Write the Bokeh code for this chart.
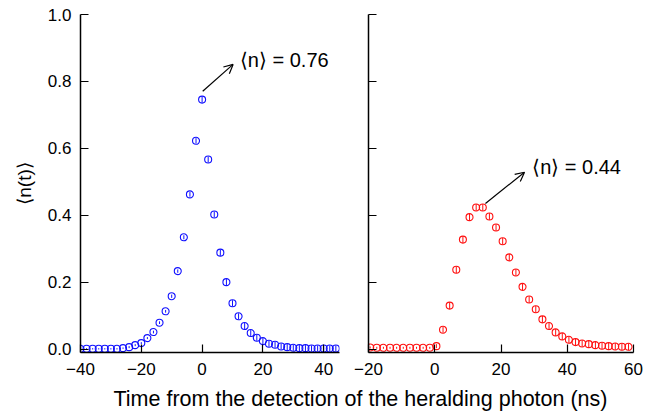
from bokeh.plotting import figure
from bokeh.layouts import column, row
from bokeh.models import FixedTicker, PrintfTickFormatter, CustomJSTickFormatter, Arrow, OpenHead
from bokeh.core.properties import value
from bokeh.embed import file_html
from bokeh.resources import INLINE

# ---------------- data ----------------
blue_x = [-40, -38, -36, -34, -32, -30, -28, -26, -24, -22, -20, -18, -16, -14, -12, -10, -8, -6, -4, -2,
          0, 2, 4, 6, 8, 10, 12, 14, 16, 18, 20, 22, 24, 26, 28, 30, 32, 34, 36, 38, 40, 42, 44]
blue_y = [0.002, 0.002, 0.002, 0.002, 0.002, 0.002, 0.002, 0.004, 0.007, 0.013, 0.019, 0.034, 0.052, 0.080,
          0.114, 0.159, 0.234, 0.335, 0.463, 0.623, 0.746, 0.567, 0.403, 0.289, 0.201, 0.138, 0.099, 0.070,
          0.049, 0.035, 0.025, 0.017, 0.014, 0.009, 0.007, 0.005, 0.004, 0.004, 0.003, 0.003, 0.003, 0.003, 0.003]
blue_err = [0.002, 0.002, 0.002, 0.002, 0.002, 0.002, 0.002, 0.002, 0.003, 0.003, 0.003, 0.003, 0.004, 0.004,
            0.004, 0.005, 0.005, 0.006, 0.007, 0.008, 0.009, 0.009, 0.009, 0.009, 0.009, 0.009, 0.009, 0.009,
            0.009, 0.009, 0.009, 0.009, 0.009, 0.009, 0.009, 0.009, 0.009, 0.009, 0.009, 0.009, 0.009, 0.009, 0.009]

red_x = [-19.5, -17.5, -15.5, -13.5, -11.5, -9.5, -7.5, -5.5, -3.5, -1.5,
         0.5, 2.5, 4.5, 6.5, 8.5, 10.5, 12.5, 14.5, 16.5, 18.5, 20.5, 22.5, 24.5, 26.5, 28.5,
         30.5, 32.5, 34.5, 36.5, 38.5, 40.5, 42.5, 44.5, 46.5, 48.5, 50.5, 52.5, 54.5, 56.5, 58.5]
red_y = [0.006, 0.005, 0.005, 0.005, 0.005, 0.005, 0.005, 0.005, 0.005, 0.005,
         0.010, 0.059, 0.131, 0.238, 0.328, 0.395, 0.424, 0.424, 0.397, 0.364, 0.323, 0.275, 0.230, 0.187,
         0.149, 0.120, 0.090, 0.070, 0.051, 0.039, 0.029, 0.022, 0.018, 0.016, 0.013, 0.011, 0.010, 0.009,
         0.008, 0.008]
red_err = [0.003, 0.003, 0.003, 0.003, 0.003, 0.003, 0.003, 0.003, 0.003, 0.003,
           0.006, 0.009, 0.010, 0.010, 0.010, 0.010, 0.010, 0.010, 0.010, 0.010, 0.010, 0.010, 0.010, 0.010,
           0.010, 0.010, 0.010, 0.010, 0.010, 0.010, 0.010, 0.010, 0.010, 0.010, 0.010, 0.010, 0.010, 0.010,
           0.010, 0.010]

left_xticks = [-40, -20, 0, 20, 40]
right_xticks = [-20, 0, 20, 40, 60]
yticks = [0.0, 0.2, 0.4, 0.6, 0.8, 1.0]

left_note = "\u27e8n\u27e9 = 0.76"
left_arrow = [0.2, 0.771, 10.2, 0.851]   # x0, y0, x1, y1
left_note_xy = [12.4, 0.864]
right_note = "\u27e8n\u27e9 = 0.44"
right_arrow = [15.3, 0.436, 27.1, 0.529]
right_note_xy = [29.4, 0.545]

y_label = "\u27e8n(t)\u27e9"
x_label = "Time from the detection of the heralding photon (ns)"

FONT = "Liberation Sans"
BLUE = "#1010ff"
RED = "#ff1010"


def style(p):
    p.grid.visible = False
    p.outline_line_color = None
    p.background_fill_color = "white"
    p.border_fill_color = "white"
    for ax in (p.xaxis[0], p.yaxis[0]):
        ax.axis_line_width = 1.5
        ax.axis_line_color = "black"
        ax.major_tick_in = 8
        ax.major_tick_out = 0
        ax.major_tick_line_width = 1.2
        ax.minor_tick_line_color = None
        ax.major_label_text_font = FONT
        ax.major_label_text_font_size = "17px"
        ax.major_label_text_color = "black"
        ax.major_label_standoff = 9
        ax.axis_label_text_font = FONT
        ax.axis_label_text_font_style = "normal"
        ax.axis_label_text_font_size = "19px"
        ax.axis_label_text_color = "black"
    p.xaxis[0].major_label_standoff = 10


def draw(p, xs, ys, errs, color):
    lo = [y - e for y, e in zip(ys, errs)]
    hi = [y + e for y, e in zip(ys, errs)]
    p.scatter(xs, ys, marker="circle", size=7, fill_color=None, line_color=color, line_width=1.1)
    p.segment(x0=xs, y0=lo, x1=xs, y1=hi, line_color=color, line_width=1)


# ---------------- left panel ----------------
p1 = figure(frame_width=259, frame_height=338, x_range=(-40, 45.2), y_range=(-0.009, 1.0),
            min_border_left=80, min_border_right=6, min_border_top=14, min_border_bottom=34,
            toolbar_location=None, output_backend="svg")
style(p1)
p1.xaxis.ticker = FixedTicker(ticks=left_xticks)
p1.yaxis.ticker = FixedTicker(ticks=yticks)
p1.yaxis.formatter = PrintfTickFormatter(format="%.1f")
p1.yaxis.axis_label = y_label
p1.yaxis.axis_label_standoff = 10
draw(p1, blue_x, blue_y, blue_err, BLUE)
p1.add_layout(Arrow(end=OpenHead(size=9, line_width=1.2, line_color="black"),
                    x_start=left_arrow[0], y_start=left_arrow[1], x_end=left_arrow[2], y_end=left_arrow[3],
                    line_width=1.2, line_color="black"))
p1.text(x=[left_note_xy[0]], y=[left_note_xy[1]], text=[left_note], text_font=value(FONT),
        text_font_size="20px", text_baseline="middle", text_align="left", text_color="black")

# ---------------- right panel ----------------
p2 = figure(frame_width=265, frame_height=338, x_range=(-20, 60), y_range=(-0.009, 1.0),
            min_border_left=23, min_border_right=28, min_border_top=14, min_border_bottom=34,
            toolbar_location=None, output_backend="svg")
style(p2)
p2.xaxis.ticker = FixedTicker(ticks=right_xticks)
p2.yaxis.ticker = FixedTicker(ticks=yticks)
p2.yaxis.formatter = CustomJSTickFormatter(code="return '';")
p2.yaxis.major_label_standoff = 0
draw(p2, red_x, red_y, red_err, RED)
p2.add_layout(Arrow(end=OpenHead(size=9, line_width=1.2, line_color="black"),
                    x_start=right_arrow[0], y_start=right_arrow[1], x_end=right_arrow[2], y_end=right_arrow[3],
                    line_width=1.2, line_color="black"))
p2.text(x=[right_note_xy[0]], y=[right_note_xy[1]], text=[right_note], text_font=value(FONT),
        text_font_size="20px", text_baseline="middle", text_align="left", text_color="black")

# ---------------- shared x label ----------------
p3 = figure(width=661, height=26, x_range=(0, 661), y_range=(0, 26),
            min_border=0, x_axis_location=None, y_axis_location=None,
            toolbar_location=None, output_backend="svg")
p3.grid.visible = False
p3.outline_line_color = None
p3.text(x=[360], y=[14], text=[x_label], text_font=value(FONT), text_font_size="21.5px",
        text_align="center", text_baseline="middle", text_color="black")

layout = column(row(p1, p2), p3)
open("out.html", "w").write(file_html(layout, INLINE))
